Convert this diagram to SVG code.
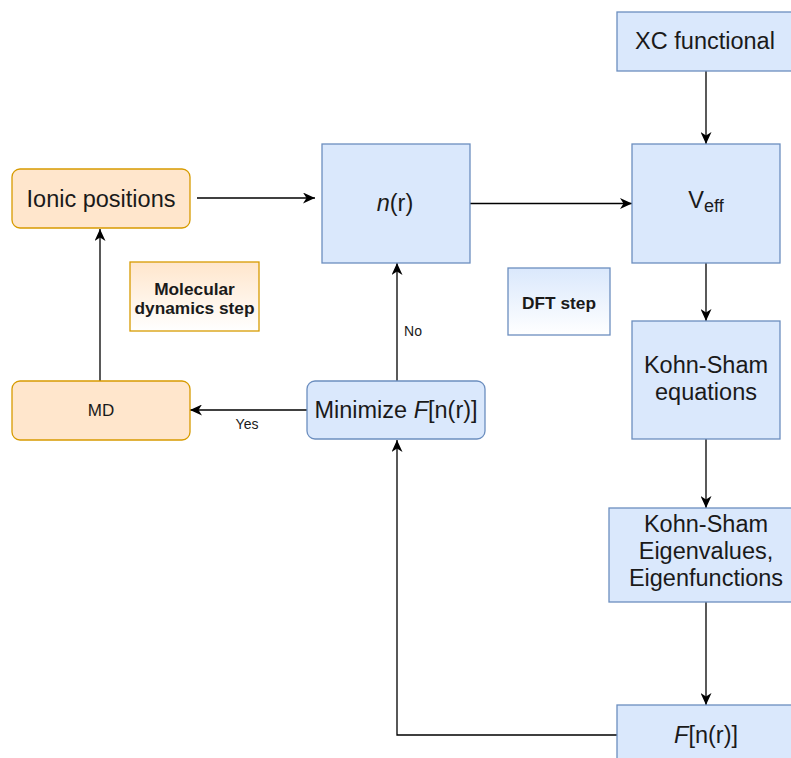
<svg xmlns="http://www.w3.org/2000/svg" width="791" height="758" viewBox="0 0 791 758">
<defs>
<marker id="arr" markerUnits="userSpaceOnUse" markerWidth="13" markerHeight="11" refX="12" refY="5.5" orient="auto">
<path d="M0,0 L12,5.5 L0,11 L3.5,5.5 Z" fill="#000"/>
</marker>
<linearGradient id="gOr" x1="0" y1="0" x2="0" y2="1">
<stop offset="0" stop-color="#ffe6cc"/><stop offset="1" stop-color="#ffffff"/>
</linearGradient>
<linearGradient id="gBl" x1="0" y1="0" x2="0" y2="1">
<stop offset="0" stop-color="#dae8fc"/><stop offset="1" stop-color="#ffffff"/>
</linearGradient>
</defs>
<style>
.blue{fill:#dae8fc;stroke:#6c8ebf;stroke-width:1.3}
.orange{fill:#ffe6cc;stroke:#d79b00;stroke-width:1.3}
text{font-family:"Liberation Sans",Arial,sans-serif;fill:#1a1a1a;text-anchor:middle}
.t23{font-size:23.5px}
.t17{font-size:17px}
.t14{font-size:14px}
.b{font-weight:bold;font-size:17.3px}
.c{fill:none;stroke:#000;stroke-width:1.3;marker-end:url(#arr)}
</style>
<rect width="791" height="758" fill="#ffffff"/>
<g id="connectors">
<path class="c" d="M706,71 L706,144"/>
<path class="c" d="M197,198 L315,198"/>
<path class="c" d="M470,203.5 L632,203.5"/>
<path class="c" d="M706,263 L706,321"/>
<path class="c" d="M706,439 L706,508"/>
<path class="c" d="M706,602 L706,705"/>
<path class="c" d="M617,735 L397,735 L397,440"/>
<path class="c" d="M397,381 L397,263"/>
<path class="c" d="M307,410 L190,410"/>
<path class="c" d="M100,381 L100,229"/>
<text class="t14" x="413" y="336">No</text>
<text class="t14" x="247" y="429">Yes</text>
</g>
<g id="xc"><rect class="blue" x="617" y="12" width="178" height="59"/><text class="t23" x="705" y="49">XC functional</text></g>
<g id="ionic"><rect class="orange" x="12" y="169" width="178" height="59" rx="8"/><text class="t23" x="101" y="207">Ionic positions</text></g>
<g id="nr"><rect class="blue" x="322" y="144" width="148" height="119"/><text class="t23" x="395" y="211"><tspan font-style="italic">n</tspan>(r)</text></g>
<g id="veff"><rect class="blue" x="632" y="144" width="148" height="119"/><text class="t23" x="706" y="208">V<tspan font-size="18px" dy="4">eff</tspan></text></g>
<g id="mdstep"><rect x="130" y="262" width="129" height="69" fill="url(#gOr)" stroke="#d79b00" stroke-width="1.3"/><text class="b" x="194.5" y="295">Molecular</text><text class="b" x="194.5" y="314">dynamics step</text></g>
<g id="dftstep"><rect x="508" y="268" width="102" height="67" fill="url(#gBl)" stroke="#6c8ebf" stroke-width="1.3"/><text class="b" x="559" y="309">DFT step</text></g>
<g id="md"><rect class="orange" x="12" y="381" width="178" height="59" rx="8"/><text class="t17" x="101" y="416">MD</text></g>
<g id="minimize"><rect class="blue" x="307" y="381" width="178" height="58" rx="8"/><text class="t23" x="396" y="418">Minimize <tspan font-style="italic">F</tspan>[n(r)]</text></g>
<g id="kseq"><rect class="blue" x="632" y="321" width="148" height="118"/><text class="t23" x="706" y="373">Kohn-Sham</text><text class="t23" x="706" y="400">equations</text></g>
<g id="kseig"><rect class="blue" x="609" y="508" width="194" height="94"/><text class="t23" x="706" y="532">Kohn-Sham</text><text class="t23" x="706" y="559">Eigenvalues,</text><text class="t23" x="706" y="586">Eigenfunctions</text></g>
<g id="fnr"><rect class="blue" x="617" y="705" width="178" height="60"/><text class="t23" x="706" y="743"><tspan font-style="italic">F</tspan>[n(r)]</text></g>
</svg>
